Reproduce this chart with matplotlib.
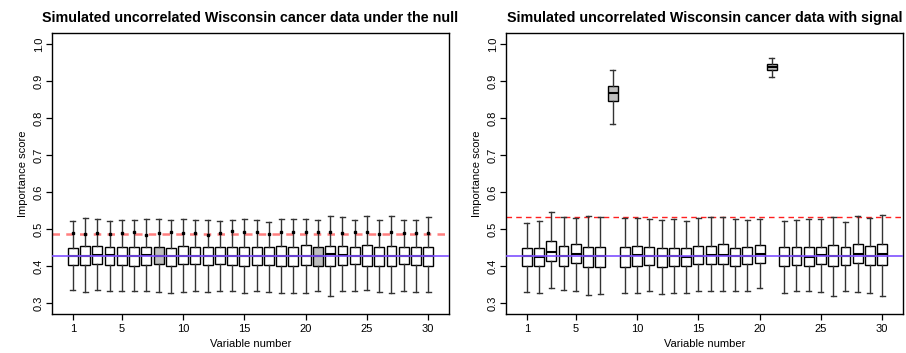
"""Importance scores for simulated uncorrelated Wisconsin cancer data (null vs signal).

Output: out.png
"""
import matplotlib
matplotlib.use("Agg")
import matplotlib.pyplot as plt

plt.rcParams["font.family"] = ["Liberation Sans", "DejaVu Sans"]

variables = list(range(1, 31))

# Panel 1: under the null
null_hi = [.523, .530, .527, .523, .526, .524, .527, .529, .526, .528,
           .524, .526, .523, .524, .528, .526, .520, .529, .529, .529,
           .525, .537, .533, .524, .536, .526, .536, .526, .524, .532]
null_q3 = [.450, .454, .454, .453, .452, .452, .452, .453, .450, .456,
           .452, .452, .451, .452, .453, .453, .452, .455, .452, .457,
           .451, .456, .455, .452, .457, .452, .456, .452, .451, .453]
null_med = [.428, .429, .430, .430, .428, .428, .431, .429, .428, .429,
            .428, .428, .428, .429, .428, .429, .428, .429, .427, .429,
            .428, .432, .430, .427, .429, .428, .428, .428, .427, .428]
null_q1 = [.404, .404, .407, .403, .404, .402, .404, .405, .400, .405,
           .405, .403, .405, .403, .402, .404, .404, .402, .400, .404,
           .402, .400, .403, .405, .402, .402, .402, .405, .403, .402]
null_lo = [.337, .331, .337, .334, .332, .334, .334, .331, .328, .330,
           .334, .330, .334, .332, .327, .333, .330, .329, .328, .328,
           .334, .321, .334, .334, .335, .330, .327, .334, .330, .330]
null_dot = [.490, .488, .490, .488, .491, .493, .486, .489, .493, .490,
            .489, .486, .489, .496, .492, .494, .488, .493, .492, .492,
            .492, .493, .491, .492, .494, .488, .494, .490, .490, .490]
null_cut = 0.488

# Panel 2: with signal (variables 8 and 21 are the true signals)
sig_hi = [.518, .523, .546, .533, .530, .535, .532, .932, .530, .530,
          .529, .525, .527, .523, .530, .533, .532, .527, .524, .529,
          .964, .523, .525, .528, .527, .534, .520, .535, .531, .540]
sig_q3 = [.450, .450, .468, .455, .459, .453, .453, .887, .452, .456,
          .453, .450, .450, .450, .454, .456, .459, .450, .453, .457,
          .946, .453, .452, .451, .453, .457, .451, .459, .455, .459]
sig_med = [.427, .426, .440, .429, .434, .427, .428, .868, .428, .431,
           .429, .427, .428, .426, .428, .430, .431, .428, .429, .432,
           .939, .427, .429, .426, .430, .428, .427, .432, .429, .432]
sig_q1 = [.402, .402, .414, .402, .409, .398, .399, .846, .399, .402,
          .403, .399, .401, .401, .405, .406, .406, .400, .405, .410,
          .932, .402, .404, .400, .405, .401, .404, .408, .403, .403]
sig_lo = [.331, .329, .340, .337, .334, .322, .325, .785, .329, .328,
          .332, .325, .327, .329, .332, .334, .332, .333, .332, .340,
          .911, .329, .332, .332, .330, .321, .333, .330, .327, .321]
sig_cut = 0.534

mean_line = 0.428
highlight = [8, 21]


def make_stats(lo, q1, med, q3, hi):
    return [dict(whislo=a, q1=b, med=c, q3=d, whishi=e, fliers=[])
            for a, b, c, d, e in zip(lo, q1, med, q3, hi)]


def draw_panel(ax, stats, title, cut, cut_style, dots=None):
    arts = ax.bxp(stats, positions=variables, widths=0.8, capwidths=0.4,
                  patch_artist=True, showfliers=False,
                  boxprops=dict(edgecolor="black", linewidth=1.0),
                  medianprops=dict(color="black", linewidth=1.5),
                  whiskerprops=dict(color="#333333", linewidth=1.0),
                  capprops=dict(color="#333333", linewidth=1.0),
                  zorder=3)
    for v, box in zip(variables, arts["boxes"]):
        box.set_facecolor("#bebebe" if v in highlight else "white")
    if dots is not None:
        ax.plot(variables, dots, ls="none", marker="s", ms=1.8, color="black", zorder=4)
    ax.axhline(cut, zorder=2, **cut_style)
    ax.axhline(mean_line, color="#7f50ff", lw=1.4, alpha=0.85, zorder=5)

    ax.set_xlim(-0.7, 31.7)
    ax.set_ylim(0.271, 1.031)
    ax.set_xticks([1, 5, 10, 15, 20, 25, 30])
    ax.set_xticklabels(["1", "5", "10", "15", "20", "25", "30"])
    ax.set_yticks([0.3, 0.4, 0.5, 0.6, 0.7, 0.8, 0.9, 1.0])
    ax.set_yticklabels(["0.3", "0.4", "0.5", "0.6", "0.7", "0.8", "0.9", "1.0"],
                       rotation=90, va="center")
    ax.tick_params(direction="out", length=4, width=0.9, labelsize=8, color="black")
    ax.tick_params(axis="y", pad=2)
    for sp in ax.spines.values():
        sp.set_linewidth(1.0)
    ax.set_xlabel("Variable number", fontsize=8, labelpad=3)
    ax.set_ylabel("Importance score", fontsize=8, labelpad=4)
    ax.set_title(title, fontsize=10.3, fontweight="bold", pad=8)


fig = plt.figure(figsize=(9.06, 3.53), dpi=100)
ax1 = fig.add_axes([0.0574, 0.1105, 0.4382, 0.796])
ax2 = fig.add_axes([0.5585, 0.1105, 0.4382, 0.796])

draw_panel(ax1, make_stats(null_lo, null_q1, null_med, null_q3, null_hi),
           "Simulated uncorrelated Wisconsin cancer data under the null",
           null_cut, dict(color="#ff7070", lw=1.8, ls=(0, (3, 2.5)), alpha=0.9),
           dots=null_dot)
draw_panel(ax2, make_stats(sig_lo, sig_q1, sig_med, sig_q3, sig_hi),
           "Simulated uncorrelated Wisconsin cancer data with signal",
           sig_cut, dict(color="#ff2020", lw=1.0, ls=(0, (4, 3))))

fig.savefig("out.png", dpi=100)
